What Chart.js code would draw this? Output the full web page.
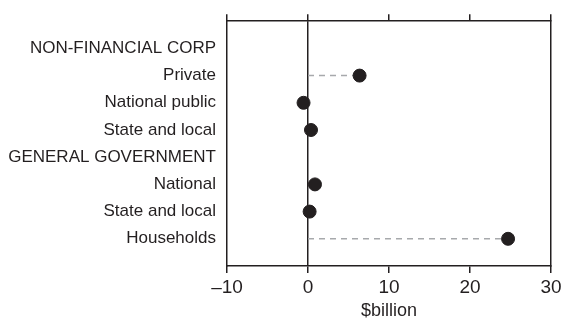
<!DOCTYPE html>
<html>
<head>
<meta charset="utf-8">
<script src="https://cdn.jsdelivr.net/npm/chart.js@4"></script>
<style>
html,body{margin:0;padding:0;background:#fff;}
#wrap{width:561px;height:322px;}
</style>
</head>
<body>
<div id="wrap"><canvas id="c" width="561" height="322"></canvas></div>
<script>
const categories = ["NON-FINANCIAL CORP","Private","National public","State and local","GENERAL GOVERNMENT","National","State and local","Households"];
const values = [null, 6.37, -0.55, 0.37, null, 0.86, 0.2, 24.7];
const dashedRows = [1, 7];
const xTicks = [-10, 0, 10, 20, 30];
const xTitle = "$billion";

const dark = "#231f20";
const pts = [];
values.forEach((v,i)=>{ if(v!==null) pts.push({x:v,y:i}); });
const datasets = [];
dashedRows.forEach(i=>{
  datasets.push({type:'line',order:2,data:[{x:0,y:i},{x:values[i],y:i}],borderColor:'#a7a9ac',borderWidth:1.5,borderDash:[6,5],pointRadius:0,fill:false,xAxisID:'x',yAxisID:'y'});
});
datasets.push({type:'scatter',order:1,data:pts,backgroundColor:dark,borderColor:dark,pointRadius:6.5,pointHoverRadius:6.5,xAxisID:'x',yAxisID:'y'});

const font = {family:'"Liberation Sans", Arial, sans-serif'};
new Chart(document.getElementById('c'),{
  data:{datasets},
  options:{
    responsive:false,animation:false,
    layout:{padding:0},
    plugins:{legend:{display:false},tooltip:{enabled:false}},
    scales:{
      x:{type:'linear',position:'bottom',min:-10,max:30,
        afterBuildTicks:s=>{s.ticks=xTicks.map(v=>({value:v}));},
        ticks:{color:dark,font:{...font,size:19},padding:3,callback:v=>v<0?'–'+Math.abs(v):String(v)},
        grid:{drawOnChartArea:true,color:c=>c.tick&&c.tick.value===0?dark:'rgba(0,0,0,0)',tickColor:dark,tickLength:7,lineWidth:1.5},
        border:{display:true,color:dark,width:1.5},
        title:{display:true,text:xTitle,color:dark,font:{...font,size:18},padding:{top:3,bottom:0}},
        afterFit:s=>{s.height=56;s.paddingRight=0;s.paddingLeft=0;}
      },
      xTop:{type:'linear',position:'top',min:-10,max:30,
        afterBuildTicks:s=>{s.ticks=xTicks.map(v=>({value:v}));},
        ticks:{display:false},
        grid:{drawOnChartArea:false,color:dark,tickLength:7,lineWidth:1.5},
        border:{display:true,color:dark,width:1.5},
        afterFit:s=>{s.height=19;s.paddingRight=0;s.paddingLeft=0;}
      },
      y:{type:'linear',position:'left',min:-1,max:8,reverse:true,
        afterBuildTicks:s=>{s.ticks=categories.map((c,i)=>({value:i}));},
        ticks:{color:dark,font:{...font,size:17},padding:11,autoSkip:false,callback:v=>categories[v]},
        grid:{display:true,drawOnChartArea:false,drawTicks:false},
        border:{display:true,color:dark,width:1.5},
        afterFit:s=>{s.width=227;}
      },
      yRight:{type:'linear',position:'right',min:-1,max:8,
        ticks:{display:false},
        grid:{display:true,drawOnChartArea:false,drawTicks:false},
        border:{display:true,color:dark,width:1.5},
        afterFit:s=>{s.width=10;}
      }
    }
  }
});
</script>
</body>
</html>
